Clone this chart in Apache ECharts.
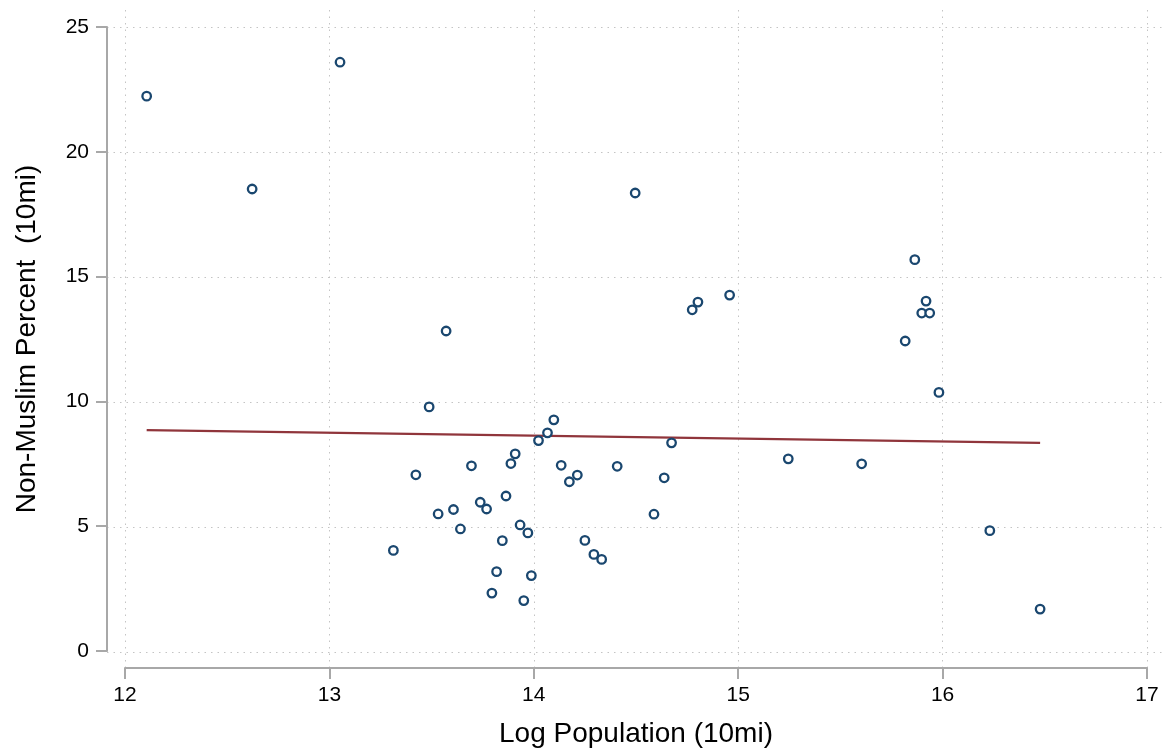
<!DOCTYPE html>
<html>
<head>
<meta charset="utf-8">
<title>Non-Muslim Percent vs Log Population</title>
<script src="https://cdn.jsdelivr.net/npm/echarts@6/dist/echarts.min.js"></script>
<style>
	html, body { margin: 0; padding: 0; background: #fff; }
	#chart { width: 1167px; height: 753px; }
</style>
</head>
<body>
<div id="chart"></div>
<script>
	// scatter points (log population, non-muslim percent)
	var logPop = [
		12.106, 13.052, 12.622, 13.571, 13.488, 13.423, 13.313, 13.532, 13.607, 13.641,
		13.695, 13.738, 13.769, 13.864, 13.888, 13.909, 13.846, 13.818, 13.795, 13.933,
		13.971, 13.988, 13.951, 14.023, 14.067, 14.098, 14.134, 14.213, 14.174, 14.408,
		14.250, 14.294, 14.332, 14.588, 14.638, 14.674, 14.496, 14.775, 14.803, 14.958,
		15.864, 15.919, 15.898, 15.937, 15.817, 15.982, 15.245, 15.604, 16.231, 16.477
	];
	var nonMuslim = [
		22.23, 23.59, 18.51, 12.82, 9.78, 7.06, 4.03, 5.49, 5.67, 4.89,
		7.42, 5.96, 5.69, 6.21, 7.51, 7.90, 4.42, 3.18, 2.32, 5.05,
		4.73, 3.02, 2.02, 8.43, 8.74, 9.26, 7.44, 7.05, 6.78, 7.40,
		4.43, 3.87, 3.67, 5.48, 6.94, 8.34, 18.35, 13.67, 13.98, 14.26,
		15.68, 14.02, 13.54, 13.54, 12.42, 10.36, 7.70, 7.50, 4.82, 1.68
	];

	// fitted line end points
	var fitX = [12.106, 16.477];
	var fitY = [8.85, 8.34];

	var xTicks = [12, 13, 14, 15, 16, 17];
	var yTicks = [0, 5, 10, 15, 20, 25];

	var points = logPop.map(function(v, i) { return [v, nonMuslim[i]]; });
	var fitLine = fitX.map(function(v, i) { return [v, fitY[i]]; });

	var font = '"Liberation Sans", Arial, sans-serif';
	var axisGray = '#a8a8a8';
	var dotted = {
		show : true,
		lineStyle : { color : '#c4c4c4', width : 1, type : [1.5, 5] }
	};

	var chart = echarts.init(document.getElementById('chart'), null, { renderer : 'canvas' });

	var option = {
		backgroundColor : '#fff',
		animation : false,
		grid : [ {
			// data region
			left : 125, right : 20, top : 27, bottom : 101
		}, {
			// plot region (grid lines run slightly past the data region)
			left : 107, right : 3, top : 10, bottom : 84
		} ],
		xAxis : [ {
			type : 'value',
			gridIndex : 0,
			min : 12, max : 17, interval : 1,
			offset : 17,
			axisLine : { show : true, onZero : false, lineStyle : { color : axisGray, width : 2 } },
			axisTick : { show : true, length : 11, lineStyle : { color : axisGray, width : 2 } },
			axisLabel : { margin : 17, color : '#000', fontSize : 21, fontFamily : font },
			splitLine : { show : false },
			name : 'Log Population (10mi)',
			nameLocation : 'middle',
			nameGap : 52,
			nameTextStyle : { color : '#000', fontSize : 28, fontFamily : font }
		}, {
			type : 'value',
			gridIndex : 1,
			min : 11.912, max : 17.083,
			axisLine : { show : false },
			axisTick : { show : false, customValues : xTicks },
			axisLabel : { show : false, customValues : xTicks },
			splitLine : dotted
		} ],
		yAxis : [ {
			type : 'value',
			gridIndex : 0,
			min : 0, max : 25, interval : 5,
			offset : 18,
			axisLine : { show : true, onZero : false, lineStyle : { color : axisGray, width : 2 } },
			axisTick : { show : true, length : 11, lineStyle : { color : axisGray, width : 2 } },
			axisLabel : { margin : 18, color : '#000', fontSize : 21, fontFamily : font },
			splitLine : { show : false },
			name : 'Non-Muslim Percent  (10mi)',
			nameLocation : 'middle',
			nameGap : 66,
			nameTextStyle : { color : '#000', fontSize : 28, fontFamily : font }
		}, {
			type : 'value',
			gridIndex : 1,
			min : -0.678, max : 25.678,
			axisLine : { show : false },
			axisTick : { show : false, customValues : yTicks },
			axisLabel : { show : false, customValues : yTicks },
			splitLine : dotted
		} ],
		series : [ {
			name : 'fit',
			type : 'line',
			xAxisIndex : 0,
			yAxisIndex : 0,
			data : fitLine,
			showSymbol : false,
			symbol : 'none',
			lineStyle : { color : '#90353b', width : 2.2 },
			z : 2
		}, {
			name : 'points',
			type : 'scatter',
			xAxisIndex : 0,
			yAxisIndex : 0,
			data : points,
			symbol : 'circle',
			symbolSize : 8.5,
			itemStyle : { color : '#fff', borderColor : '#1a476f', borderWidth : 2.3, opacity : 1 },
			z : 3
		} ]
	};

	chart.setOption(option);
</script>
</body>
</html>
